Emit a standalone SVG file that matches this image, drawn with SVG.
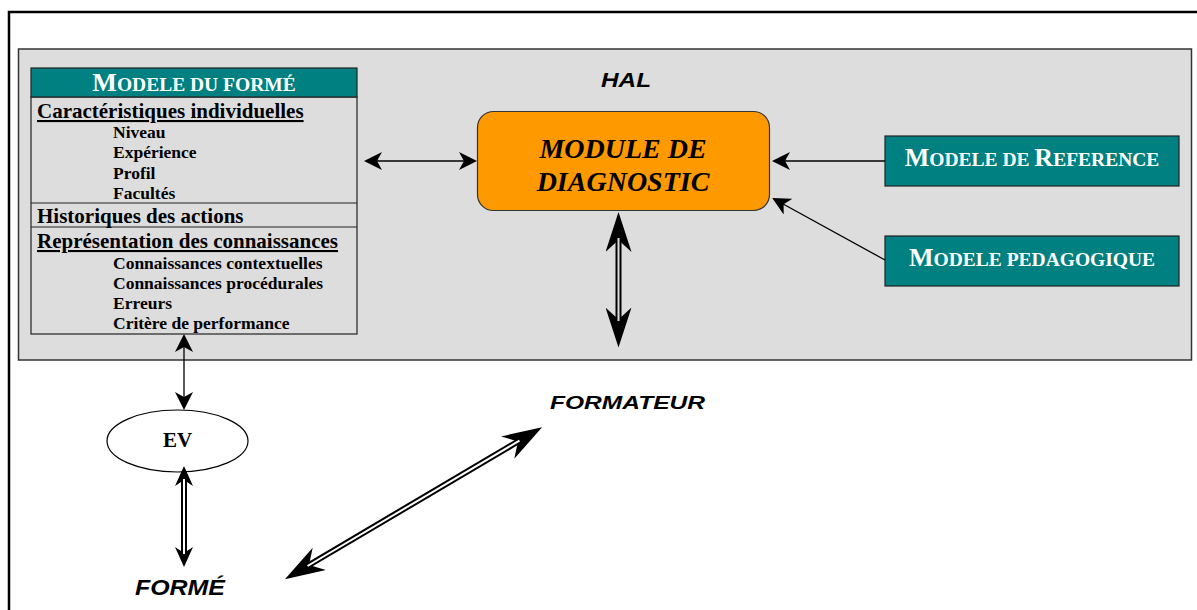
<svg xmlns="http://www.w3.org/2000/svg" width="1197" height="610" viewBox="0 0 1197 610">
<style>
.serif{font-family:"Liberation Serif","Times New Roman",serif;font-weight:bold}
.sans{font-family:"Liberation Sans",Arial,sans-serif;font-weight:bold;font-style:italic}
.teal{fill:#008080;stroke:#222;stroke-width:1.2}
.thin{stroke:#000;stroke-width:1.3;fill:none}
.wh{fill:#fff}
</style>
<defs>
<marker id="ah" viewBox="0 0 18 18" refX="16" refY="9" markerWidth="18" markerHeight="18" markerUnits="userSpaceOnUse" orient="auto-start-reverse">
<path d="M0,0 L18,9 L0,18 L5,9 z" fill="#000"/>
</marker>
<marker id="hv" viewBox="0 0 40 26" refX="12" refY="13" markerWidth="40" markerHeight="26" markerUnits="userSpaceOnUse" orient="auto-start-reverse">
<path d="M0,0 L40,13 L0,26 L12,13 z" fill="#000"/>
</marker>
<marker id="hm" viewBox="0 0 20 18" refX="6" refY="9" markerWidth="20" markerHeight="18" markerUnits="userSpaceOnUse" orient="auto-start-reverse">
<path d="M0,0 L20,9 L0,18 L6,9 z" fill="#000"/>
</marker>
</defs>
<rect width="1197" height="610" fill="#fff"/>
<path d="M9,610 V12 H1197" fill="none" stroke="#000" stroke-width="2.5"/>
<g id="hal">
<rect x="18.5" y="49" width="1173" height="311" fill="#dddddd" stroke="#333" stroke-width="1.5"/>
<text class="sans" x="601" y="87" font-size="20" textLength="50" lengthAdjust="spacingAndGlyphs">HAL</text>
</g>
<g id="modele-forme">
<rect x="31" y="97" width="326" height="237" fill="#dddddd" stroke="#222" stroke-width="1.2"/>
<rect x="31" y="68" width="326" height="29" class="teal"/>
<line x1="31" y1="203" x2="357" y2="203" stroke="#222" stroke-width="1.2"/>
<line x1="31" y1="227" x2="357" y2="227" stroke="#222" stroke-width="1.2"/>
<text class="serif wh" x="194" y="91" text-anchor="middle" font-size="19.5"><tspan font-size="26">M</tspan>ODELE DU FORMÉ</text>
<g class="serif" font-size="21">
<text x="37" y="118" text-decoration="underline">Caractéristiques individuelles</text>
<text x="37" y="223">Historiques des actions</text>
<text x="37" y="248" text-decoration="underline">Représentation des connaissances</text>
</g>
<g class="serif" font-size="17.5">
<text x="113" y="138">Niveau</text>
<text x="113" y="158">Expérience</text>
<text x="113" y="179">Profil</text>
<text x="113" y="199">Facultés</text>
<text x="113" y="269">Connaissances contextuelles</text>
<text x="113" y="289">Connaissances procédurales</text>
<text x="113" y="309">Erreurs</text>
<text x="113" y="329">Critère de performance</text>
</g>
</g>
<g id="module-diagnostic">
<rect x="477.5" y="111.5" width="292" height="99" rx="16" fill="#ff9900" stroke="#333" stroke-width="1.2"/>
<text class="serif" font-style="italic" font-size="28" text-anchor="middle" x="623" y="158">MODULE DE</text>
<text class="serif" font-style="italic" font-size="28" text-anchor="middle" x="623" y="191">DIAGNOSTIC</text>
</g>
<g id="modele-reference">
<rect x="885" y="136" width="294" height="50" class="teal"/>
<text class="serif wh" x="1032" y="166" text-anchor="middle" font-size="19.5"><tspan font-size="26">M</tspan>ODELE DE <tspan font-size="26">R</tspan>EFERENCE</text>
</g>
<g id="modele-pedagogique">
<rect x="885" y="236" width="294" height="50" class="teal"/>
<text class="serif wh" x="1032" y="266" text-anchor="middle" font-size="19.5"><tspan font-size="26">M</tspan>ODELE PEDAGOGIQUE</text>
</g>
<g id="ev">
<ellipse cx="177.5" cy="441" rx="70.5" ry="31" fill="#fff" stroke="#000" stroke-width="1.2"/>
<text class="serif" x="177.5" y="447" text-anchor="middle" font-size="21">EV</text>
</g>
<g id="formateur">
<text class="sans" x="550" y="409" font-size="19" textLength="155" lengthAdjust="spacingAndGlyphs">FORMATEUR</text>
</g>
<g id="forme">
<text class="sans" x="135" y="595" font-size="22" textLength="90" lengthAdjust="spacingAndGlyphs">FORMÉ</text>
</g>
<g id="connectors">
<line class="thin" x1="366" y1="161" x2="475" y2="161" marker-start="url(#ah)" marker-end="url(#ah)"/>
<line class="thin" x1="885" y1="161" x2="774" y2="161" marker-end="url(#ah)"/>
<line class="thin" x1="885" y1="260" x2="774" y2="199" marker-end="url(#ah)"/>
<line class="thin" x1="184" y1="336" x2="184" y2="408" marker-start="url(#ah)" marker-end="url(#ah)"/>
<line x1="618.5" y1="240" x2="618.5" y2="319.5" stroke="#000" stroke-width="6" marker-start="url(#hv)" marker-end="url(#hv)"/>
<line x1="618.5" y1="238" x2="618.5" y2="321" stroke="#dddddd" stroke-width="2"/>
<line x1="184" y1="480" x2="184" y2="553" stroke="#000" stroke-width="6" marker-start="url(#hm)" marker-end="url(#hm)"/>
<line x1="184" y1="479" x2="184" y2="554" stroke="#fff" stroke-width="2"/>
<line x1="309" y1="565" x2="518" y2="441.5" stroke="#000" stroke-width="6" marker-start="url(#hv)" marker-end="url(#hv)"/>
<line x1="307.5" y1="566" x2="519.5" y2="440.6" stroke="#fff" stroke-width="2"/>
</g>
</svg>
